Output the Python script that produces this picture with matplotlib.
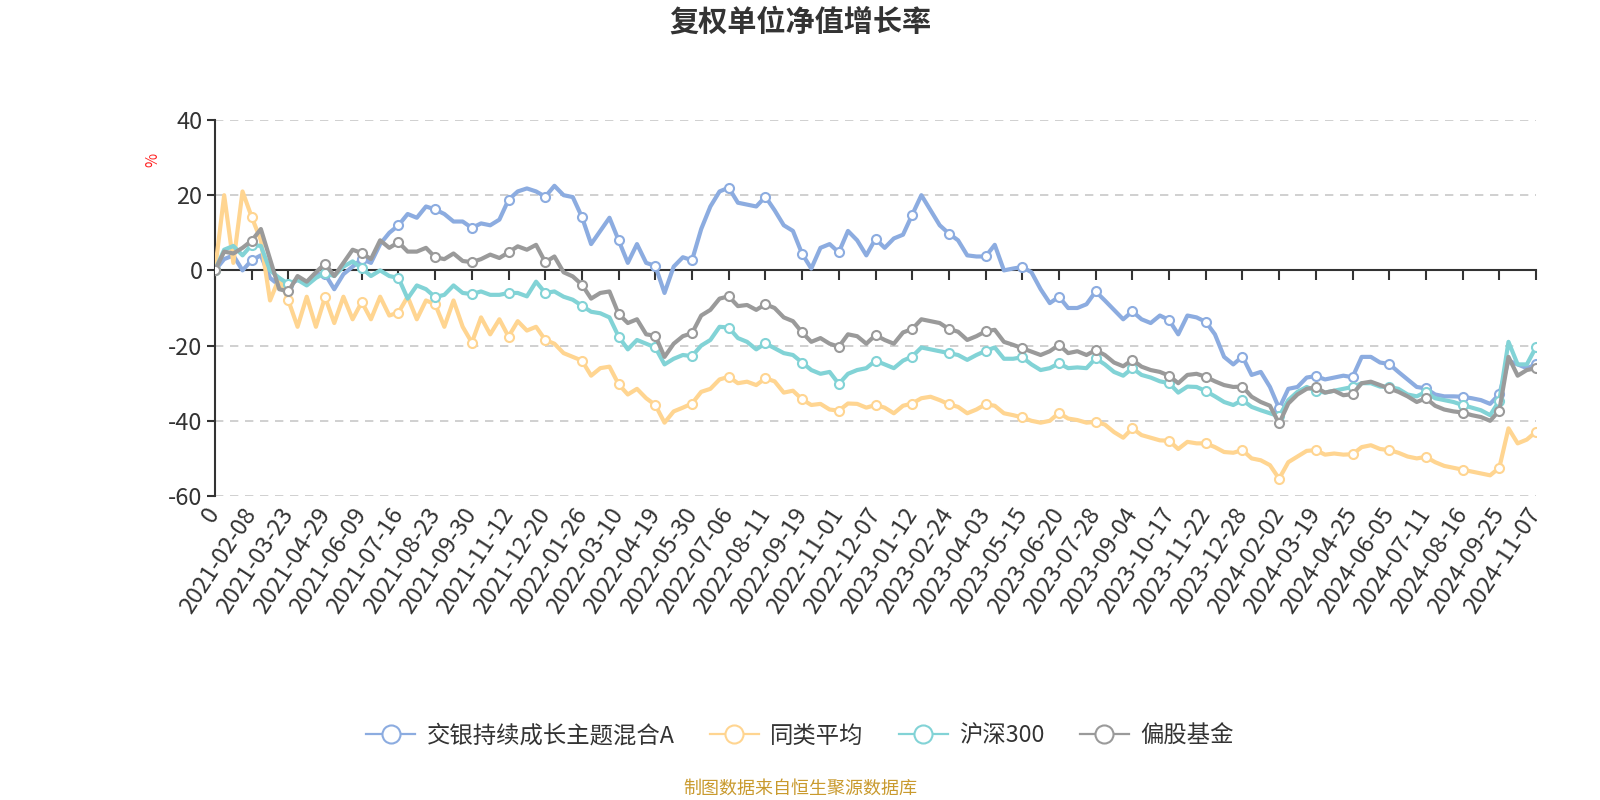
import matplotlib
matplotlib.use("Agg")
import matplotlib.pyplot as plt
from matplotlib.lines import Line2D
import numpy as np

plt.rcParams['font.family'] = ['Noto Sans CJK SC', 'DejaVu Sans']

tick_labels = ["0", "2021-02-08", "2021-03-23", "2021-04-29", "2021-06-09", "2021-07-16",
               "2021-08-23", "2021-09-30", "2021-11-12", "2021-12-20", "2022-01-26", "2022-03-10",
               "2022-04-19", "2022-05-30", "2022-07-06", "2022-08-11", "2022-09-19", "2022-11-01",
               "2022-12-07", "2023-01-12", "2023-02-24", "2023-04-03", "2023-05-15", "2023-06-20",
               "2023-07-28", "2023-09-04", "2023-10-17", "2023-11-22", "2023-12-28", "2024-02-02",
               "2024-03-19", "2024-04-25", "2024-06-05", "2024-07-11", "2024-08-16", "2024-09-25",
               "2024-11-07"]

series_names = ["交银持续成长主题混合A", "同类平均", "沪深300", "偏股基金"]

fund = [
    0, 3, 4, 0, 2.7, 4, -2, -4,
    -4, -2.5, -3.5, -1, -1, -5, -1, 1,
    3, 2, 7, 10, 12, 15, 14, 17,
    16.2, 15, 13, 13, 11.3, 12.5, 12, 13.5,
    18.8, 21, 21.8, 21, 19.6, 22.5, 20, 19.5,
    14.2, 7, 10.5, 14, 8, 2, 7, 2,
    1.2, -6, 1, 3.5, 2.7, 11, 17, 21,
    22, 18, 17.5, 17, 19.6, 16, 12, 10.5,
    4.4, 0.5, 6, 7, 4.8, 10.5, 8, 4,
    8.4, 6, 8.5, 9.5, 14.8, 20, 16, 12,
    9.8, 8, 4, 3.7, 3.7, 6.8, 0, 0.5,
    0.9, -0.5, -5, -8.7, -7, -10, -10, -9,
    -5.6, -8, -10.5, -13, -10.9, -13, -14, -12,
    -13.2, -17, -12, -12.5, -13.7, -17, -23, -25,
    -22.9, -27.8, -27, -31, -36.7, -31.5, -31, -28.5,
    -28.1, -29, -28.5, -28, -28.4, -23, -23, -24.5,
    -24.9, -27, -29, -31, -31.4, -33, -33.5, -33.5,
    -33.6, -34, -34.5, -35.5, -32.9, -24, -25, -26,
    -25]

peer_avg = [
    0, 20, 2, 21, 14.2, 8, -8, -2,
    -8, -15, -7, -15, -7.1, -14, -7, -13,
    -8.4, -13, -7, -12, -11.2, -7, -13, -8,
    -9, -15, -8, -15, -19.2, -12.5, -17, -13,
    -17.6, -13.5, -16, -15, -18.5, -19.5, -22, -23,
    -24, -28, -26, -25.6, -30.3, -33, -31.5, -34,
    -35.8, -40.5, -37.5, -36.5, -35.4, -32.3, -31.5, -29,
    -28.3, -30, -29.6, -30.5, -28.7, -29.5, -32.5, -32,
    -34.3, -35.8, -35.5, -37, -37.3, -35.4, -35.5, -36.5,
    -35.8, -36.5, -38, -36, -35.4, -34, -33.6, -34.5,
    -35.6, -36.3, -38, -37, -35.6, -36, -38, -38.5,
    -39.1, -40, -40.5, -40, -37.9, -39.4, -39.8, -40.5,
    -40.3, -41, -43, -44.5, -42, -43.8, -44.5, -45.2,
    -45.3, -47.5, -45.6, -46, -46, -47, -48.3, -48.5,
    -47.8, -50, -50.5, -51.8, -55.4, -51, -49.5, -48,
    -47.8, -49, -48.7, -49, -48.9, -47, -46.5, -47.5,
    -47.8, -48.5, -49.5, -50, -49.6, -51, -52, -52.5,
    -53, -53.5, -54, -54.5, -52.5, -42, -46, -45,
    -42.9]

hs300 = [
    0, 5.5, 6.5, 4, 6.8, 6.5, 0, -2,
    -3.6, -2.5, -4, -2, -0.7, -1.5, 1, 2.4,
    0.6, -1.5, 0, -1.5, -2, -7.5, -4, -5,
    -7.1, -6.5, -4, -6, -6.3, -5.6, -6.5, -6.5,
    -6, -6, -6.9, -3, -6, -5.6, -7, -7.8,
    -9.4, -11, -11.4, -12.5, -17.6, -21, -18.5, -19.5,
    -20.5, -25, -23.5, -22.5, -22.8, -20, -18.5, -15,
    -15.2, -18, -19, -21, -19.4, -20.7, -22, -22.5,
    -24.5, -26.5, -27.5, -27, -30.2, -27.5, -26.5, -26,
    -24, -25, -26, -24, -22.9, -20.5, -21, -21.5,
    -22, -22.5, -23.8, -22.5, -21.4, -20.5, -23.5, -23.5,
    -23.1, -25, -26.5, -26, -24.7, -26, -25.8, -26,
    -23.4, -25, -27, -28, -26, -27.8, -28.5, -29.5,
    -30, -32.5, -30.9, -31, -32.1, -33.5, -35, -35.8,
    -34.5, -36.3, -37.2, -38, -38.8, -34.5, -32.3, -31,
    -32, -32.5, -32, -31.5, -31, -30, -30, -30.9,
    -31, -31.5, -33, -33.5, -32.3, -34, -34.5, -35,
    -35.8, -36.5, -37.2, -38.5, -34.7, -19, -25, -25,
    -20.4]

equity_funds = [
    0, 5, 4.5, 6, 7.9, 11, 3, -5,
    -5.6, -1.5, -3, -0.5, 1.8, -1.5, 2, 5.5,
    4.6, 3, 8, 6, 7.5, 5, 5, 6,
    3.5, 3, 4.5, 2.5, 2.2, 3, 4.2, 3.3,
    4.8, 6.4, 5.5, 6.8, 2.2, 3.7, -0.5, -1.6,
    -3.8, -7.5, -6, -5.6, -11.6, -14, -13, -17,
    -17.4, -23, -19.5, -17.5, -16.7, -12, -10.5, -7.5,
    -6.9, -9.5, -9.2, -10.5, -9, -10, -12.5, -13.5,
    -16.5, -19, -18, -19.5, -20.3, -17, -17.5, -19.5,
    -17.2, -18.5, -19.5, -16.5, -15.6, -13, -13.5, -14,
    -15.6, -16.3, -18.5, -17.5, -16.2, -15.8, -19, -19.8,
    -20.7, -21.6, -22.5, -21.5, -19.8, -22, -21.5, -22.5,
    -21.2, -22.5, -24.5, -25.5, -23.8, -25.6, -26.5, -27,
    -28, -30, -27.8, -27.5, -28.3, -29.5, -30.5, -31,
    -30.9, -33.6, -35, -36, -40.7, -35.4, -33, -31.5,
    -31.1, -32.5, -32, -33.2, -32.9, -30, -29.6, -30.5,
    -31.4, -32.3, -33.5, -35, -34, -36, -37, -37.5,
    -37.8, -38.5, -39, -40, -37.3, -23, -28, -26.5,
    -26]

colors = ["#8cace0", "#ffd591", "#82d3d6", "#9a9a9a"]
all_series = [fund, peer_avg, hs300, equity_funds]

n = len(fund)
step = (n - 1) // (len(tick_labels) - 1)
x = np.arange(n)
tick_pos = np.arange(len(tick_labels)) * step

fig = plt.figure(figsize=(16, 8), dpi=100)
ax = fig.add_axes([215 / 1600, 1 - 496 / 800, (1536 - 215) / 1600, (496 - 120) / 800])

handles = []
for name, vals, c in zip(series_names, all_series, colors):
    ax.plot(x, vals, color=c, lw=3.0, solid_joinstyle='round',
            marker='o', markevery=step, markersize=6.5,
            markerfacecolor='white', markeredgecolor=c, markeredgewidth=1.5,
            label=name, zorder=3)
    handles.append(Line2D([0], [0], color=c, lw=1.6, marker='o', markersize=13,
                          markerfacecolor='white', markeredgecolor=c, markeredgewidth=1.5))

ax.set_xlim(0, n - 1)
ax.set_ylim(-60, 40)
ax.set_yticks([40, 20, 0, -20, -40, -60])
ax.set_yticklabels(["40", "20", "0", "-20", "-40", "-60"], fontsize=17, color='#333333')
for yv in [40, 20, -20, -40, -60]:
    ax.axhline(yv, color='#c8c8c8', lw=1.2, ls=(0, (5, 4)), zorder=1)

for s in ['top', 'right']:
    ax.spines[s].set_visible(False)
ax.spines['left'].set_color('#333333')
ax.spines['left'].set_linewidth(1.5)
ax.spines['bottom'].set_position(('data', 0))
ax.spines['bottom'].set_color('#333333')
ax.spines['bottom'].set_linewidth(1.5)
ax.spines['bottom'].set_zorder(2)
ax.tick_params(axis='y', direction='out', length=6, width=1.5, color='#333333', pad=3)
ax.set_xticks(tick_pos)
ax.tick_params(axis='x', direction='out', length=7, width=1.5, color='#333333', labelbottom=False)

sec = ax.secondary_xaxis(0)
sec.set_xticks(tick_pos)
sec.set_xticklabels(tick_labels, rotation=57, ha='right', va='center',
                    rotation_mode='anchor', fontsize=17, color='#333333')
sec.tick_params(axis='x', length=0, pad=10)
sec.spines['bottom'].set_visible(False)

fig.text(0.5, 1 - 22 / 800, "复权单位净值增长率", ha='center', va='center',
         fontsize=21, fontweight='bold', color='#333333')
fig.text(153 / 1600, 1 - 160 / 800, "%", ha='center', va='center', rotation=90,
         fontsize=11, color='#ff2020')

fig.legend(handles, series_names, loc='center', bbox_to_anchor=(0.5, 1 - 736 / 800),
           ncol=4, frameon=False, fontsize=16.8, handlelength=2.1, handletextpad=0.5,
           columnspacing=1.5, labelcolor='#333333')

fig.text(0.5, 1 - 789 / 800, "制图数据来自恒生聚源数据库", ha='center', va='center',
         fontsize=13, color='#c99a2e')

fig.savefig("out.png", dpi=100)
